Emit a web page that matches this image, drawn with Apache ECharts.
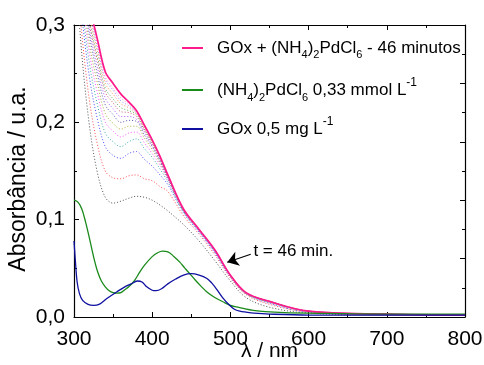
<!DOCTYPE html>
<html>
<head>
<meta charset="utf-8">
<script src="https://cdn.jsdelivr.net/npm/echarts@6/dist/echarts.min.js"></script>
<style>
  html, body { margin: 0; padding: 0; background: #fff; }
  #chart { width: 484px; height: 365px; }
</style>
</head>
<body>
<div id="chart"></div>
<script>
// wavelength grid (nm) for the time-resolved spectra
const wl = [300, 310, 320, 330, 340, 350, 360, 370, 380, 390, 400, 410, 420, 440, 460, 480, 500, 520, 550, 600, 700, 800]

// dotted intermediate spectra, first (lowest) to last before 46 min
const spectra = [
  [0.380, 0.270, 0.195, 0.148, 0.123, 0.117, 0.119, 0.122, 0.124, 0.123, 0.120, 0.115, 0.109, 0.095, 0.078, 0.058, 0.037, 0.020, 0.010, 0.004, 0.002, 0.002],
  [0.388, 0.291, 0.221, 0.177, 0.150, 0.143, 0.142, 0.145, 0.146, 0.142, 0.140, 0.134, 0.129, 0.104, 0.085, 0.064, 0.040, 0.023, 0.013, 0.005, 0.002, 0.002],
  [0.396, 0.310, 0.245, 0.203, 0.175, 0.166, 0.163, 0.168, 0.170, 0.162, 0.155, 0.146, 0.136, 0.107, 0.087, 0.066, 0.041, 0.024, 0.014, 0.005, 0.003, 0.002],
  [0.400, 0.321, 0.259, 0.218, 0.189, 0.180, 0.175, 0.180, 0.183, 0.173, 0.164, 0.152, 0.139, 0.108, 0.088, 0.067, 0.042, 0.024, 0.015, 0.006, 0.003, 0.002],
  [0.404, 0.330, 0.270, 0.230, 0.200, 0.191, 0.185, 0.189, 0.190, 0.179, 0.168, 0.156, 0.141, 0.109, 0.088, 0.067, 0.042, 0.024, 0.015, 0.006, 0.003, 0.002],
  [0.407, 0.337, 0.279, 0.240, 0.209, 0.199, 0.193, 0.196, 0.196, 0.184, 0.172, 0.158, 0.142, 0.109, 0.089, 0.068, 0.042, 0.024, 0.015, 0.006, 0.003, 0.002],
  [0.410, 0.344, 0.288, 0.249, 0.218, 0.208, 0.200, 0.202, 0.201, 0.187, 0.175, 0.160, 0.143, 0.110, 0.089, 0.068, 0.043, 0.025, 0.016, 0.006, 0.003, 0.002],
  [0.412, 0.349, 0.294, 0.256, 0.225, 0.214, 0.206, 0.206, 0.203, 0.190, 0.176, 0.161, 0.143, 0.110, 0.089, 0.068, 0.043, 0.025, 0.016, 0.006, 0.003, 0.002],
  [0.414, 0.354, 0.300, 0.263, 0.231, 0.220, 0.211, 0.210, 0.206, 0.192, 0.178, 0.162, 0.144, 0.110, 0.089, 0.069, 0.043, 0.025, 0.016, 0.006, 0.003, 0.002],
  [0.415, 0.357, 0.304, 0.267, 0.235, 0.224, 0.215, 0.212, 0.208, 0.193, 0.179, 0.163, 0.145, 0.110, 0.090, 0.069, 0.043, 0.025, 0.016, 0.006, 0.003, 0.002],
  [0.416, 0.361, 0.309, 0.273, 0.240, 0.229, 0.219, 0.215, 0.209, 0.194, 0.180, 0.164, 0.145, 0.110, 0.090, 0.069, 0.043, 0.025, 0.016, 0.006, 0.003, 0.002],
  [0.418, 0.364, 0.313, 0.277, 0.244, 0.233, 0.222, 0.217, 0.210, 0.196, 0.181, 0.164, 0.145, 0.111, 0.090, 0.069, 0.043, 0.025, 0.016, 0.006, 0.003, 0.002],
  [0.418, 0.366, 0.315, 0.280, 0.247, 0.235, 0.225, 0.219, 0.211, 0.196, 0.181, 0.165, 0.146, 0.111, 0.090, 0.069, 0.043, 0.025, 0.016, 0.006, 0.003, 0.002]
]
const spectraColors = ['#333333', '#ff3030', '#3030ff', '#20a0a0', '#ff40ff', '#a0a020', '#4040a0', '#a040ff', '#c04060', '#40a040', '#ff8040', '#8080ff', '#ff80c0']

// GOx + (NH4)2PdCl6 after 46 minutes
const final46 = [0.420, 0.370, 0.320, 0.285, 0.252, 0.240, 0.229, 0.221, 0.212, 0.197, 0.182, 0.165, 0.146, 0.111, 0.090, 0.069, 0.043, 0.025, 0.016, 0.006, 0.003, 0.002]

// (NH4)2PdCl6 0,33 mmol/L
const pdWl = [300, 305, 310, 315, 320, 325, 330, 335, 340, 345, 350, 355, 360, 365, 370, 377, 384, 390, 400, 407, 413, 420, 428, 435, 442, 448, 455, 462, 470, 480, 491, 500, 508, 518, 529, 545, 570, 600, 700, 800]
const pdAbs = [0.120, 0.118, 0.111, 0.097, 0.080, 0.062, 0.047, 0.037, 0.031, 0.027, 0.025, 0.0245, 0.025, 0.028, 0.031, 0.037, 0.046, 0.053, 0.062, 0.066, 0.0676, 0.067, 0.062, 0.0566, 0.050, 0.0446, 0.038, 0.032, 0.0257, 0.020, 0.0154, 0.012, 0.0103, 0.0085, 0.0069, 0.0055, 0.0045, 0.004, 0.003, 0.003]

// GOx 0,5 mg/L
const goxWl = [300, 302, 304, 307, 311, 318, 325, 332, 342, 355, 365, 373, 381, 387, 393, 400, 405, 412, 420, 430, 440, 450, 460, 470, 476, 482, 490, 499, 505, 512, 520, 530, 550, 600, 700, 800]
const goxAbs = [0.078, 0.055, 0.036, 0.024, 0.017, 0.013, 0.012, 0.013, 0.019, 0.026, 0.031, 0.034, 0.037, 0.036, 0.031, 0.0275, 0.027, 0.029, 0.034, 0.039, 0.043, 0.0445, 0.043, 0.0395, 0.035, 0.029, 0.020, 0.012, 0.008, 0.006, 0.005, 0.004, 0.003, 0.002, 0.002, 0.002]

const xTicks = [300, 400, 500, 600, 700, 800]
const yTickLabels = ['0,0', '0,1', '0,2', '0,3']

// arrow + "t = 46 min." note (data coords)
const arrowFrom = [526, 0.0645]
const arrowTo = [496, 0.0562]
const noteAt = [523, 0.0677]

const names = {
  final: 'GOx + (NH4)2PdCl6 - 46 minutos',
  pd: '(NH4)2PdCl6 0,33 mmol L-1',
  gox: 'GOx 0,5 mg L-1'
}
const richNames = {
  [names.final]: 'GOx + (NH{s|4}){s|2}PdCl{s|6} - 46 minutos',
  [names.pd]: '(NH{s|4}){s|2}PdCl{s|6} 0,33 mmol L{p|-1}',
  [names.gox]: 'GOx 0,5 mg L{p|-1}'
}

const font = 'Liberation Sans, Arial, sans-serif'
const pairs = (xs, ys) => xs.map((x, i) => [x, ys[i]])

const tickStyle = { show: true, inside: true, length: 5, lineStyle: { color: '#000', width: 1 } }
const minorStyle = { show: true, splitNumber: 2, length: 3, lineStyle: { color: '#000', width: 1 } }
const lineAxis = { show: true, onZero: false, lineStyle: { color: '#000', width: 1.2 } }

const legendBase = {
  orient: 'vertical',
  left: 182,
  padding: 0,
  icon: 'rect',
  itemWidth: 21,
  itemHeight: 2,
  formatter: name => richNames[name],
  textStyle: {
    fontFamily: font,
    fontSize: 17,
    color: '#000',
    lineHeight: 24,
    padding: [0, 0, 0, 9],
    rich: {
      s: { fontFamily: font, fontSize: 11, lineHeight: 24, verticalAlign: 'bottom', color: '#000' },
      p: { fontFamily: font, fontSize: 12, lineHeight: 26, verticalAlign: 'top', color: '#000' }
    }
  }
}

const chart = echarts.init(document.getElementById('chart'), null, { renderer: 'canvas' })

chart.setOption({
  animation: false,
  backgroundColor: '#fff',
  textStyle: { fontFamily: font },
  grid: { left: 74, right: 19, top: 25, bottom: 48, containLabel: false, outerBoundsMode: 'none' },
  legend: [
    { ...legendBase, top: 36, data: [names.final] },
    { ...legendBase, top: 77, data: [names.pd] },
    { ...legendBase, top: 116, data: [names.gox] }
  ],
  xAxis: [
    {
      type: 'value', min: 300, max: 800, interval: 100, position: 'bottom',
      name: 'λ / nm', nameLocation: 'middle', nameGap: 24, nameMoveOverlap: false,
      nameTextStyle: { fontFamily: font, fontSize: 21, color: '#000' },
      axisLine: lineAxis, axisTick: tickStyle, minorTick: minorStyle,
      splitLine: { show: false },
      axisLabel: { fontSize: 21, color: '#000', margin: 12, formatter: v => (xTicks.includes(v) ? String(v) : '') }
    },
    {
      type: 'value', min: 300, max: 800, interval: 100, position: 'top',
      axisLine: lineAxis, axisTick: tickStyle, minorTick: minorStyle,
      splitLine: { show: false }, axisLabel: { show: false }
    }
  ],
  yAxis: [
    {
      type: 'value', min: 0, max: 0.3, interval: 0.1, position: 'left',
      name: 'Absorbância / u.a.', nameLocation: 'middle', nameGap: 44, nameMoveOverlap: false,
      nameTextStyle: { fontFamily: font, fontSize: 23, color: '#000', padding: [0, 16, 0, 0] },
      axisLine: lineAxis, axisTick: tickStyle, minorTick: minorStyle,
      splitLine: { show: false },
      axisLabel: { fontSize: 21, color: '#000', margin: 9, formatter: v => yTickLabels[Math.round(v * 10)] }
    },
    {
      type: 'value', min: 0, max: 0.3, interval: 0.06, position: 'right',
      axisLine: lineAxis, axisTick: tickStyle, minorTick: minorStyle,
      splitLine: { show: false }, axisLabel: { show: false }
    }
  ],
  series: [
    ...spectra.map((ys, k) => ({
      name: 't' + k,
      type: 'line',
      data: pairs(wl, ys),
      showSymbol: false,
      smooth: 0.35,
      clip: true,
      silent: true,
      lineStyle: { color: spectraColors[k], width: 1, type: [1, 2], opacity: 0.85 }
    })),
    {
      name: names.final,
      type: 'line',
      data: pairs(wl, final46),
      showSymbol: false,
      smooth: 0.35,
      clip: true,
      color: '#ff1a8c',
      lineStyle: { color: '#ff1a8c', width: 1.7 },
      markPoint: {
        silent: true,
        symbol: 'circle',
        symbolSize: 0,
        label: { show: true, position: 'right', distance: 5, formatter: 't = 46 min.', fontFamily: font, fontSize: 17, color: '#000' },
        data: [{ coord: noteAt }]
      }
    },
    {
      name: names.pd,
      type: 'line',
      data: pairs(pdWl, pdAbs),
      showSymbol: false,
      smooth: 0.35,
      color: '#1a8a1a',
      lineStyle: { color: '#1a8a1a', width: 1.3 }
    },
    {
      name: names.gox,
      type: 'line',
      data: pairs(goxWl, goxAbs),
      showSymbol: false,
      smooth: 0.35,
      color: '#1010a0',
      lineStyle: { color: '#1010a0', width: 1.3 }
    },
    {
      // carrier for the arrow, drawn above the curves
      name: 'arrow',
      type: 'line',
      data: [],
      z: 5,
      markLine: {
        silent: true,
        symbol: ['none', 'arrow'],
        symbolSize: 11,
        label: { show: false },
        itemStyle: { color: '#000' },
        lineStyle: { color: '#000', width: 1.2, type: 'solid' },
        data: [[{ coord: arrowFrom }, { coord: arrowTo }]]
      }
    }
  ]
})
</script>
</body>
</html>
